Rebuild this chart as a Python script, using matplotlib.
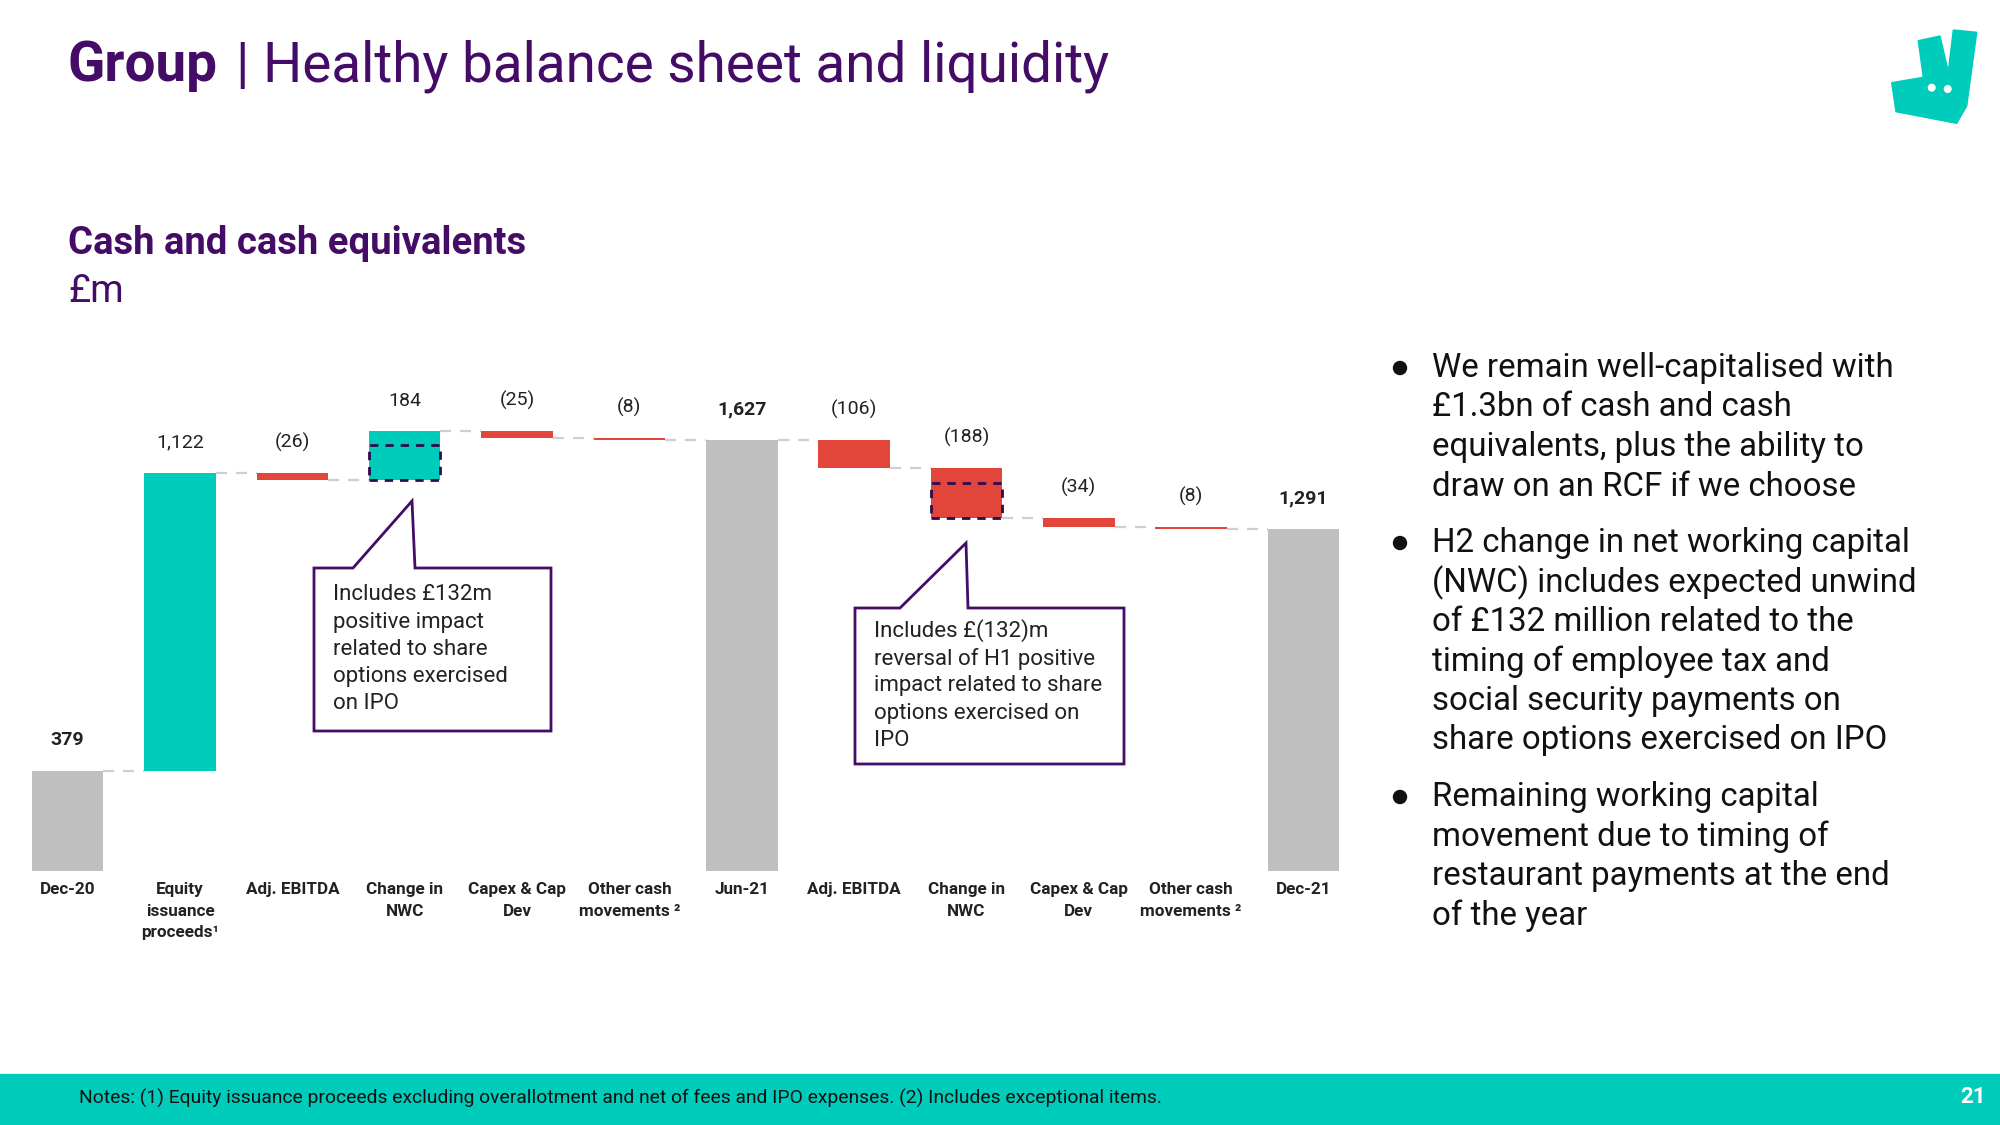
import numpy as np
import matplotlib
matplotlib.use("Agg")
import matplotlib.pyplot as plt
from matplotlib.patches import Rectangle, Polygon, Circle

plt.rcParams['font.family'] = ['Roboto', 'DejaVu Sans']

# data
categories = ['Dec-20', 'Equity\nissuance\nproceeds¹', 'Adj. EBITDA', 'Change in\nNWC',
              'Capex & Cap\nDev', 'Other cash\nmovements ²', 'Jun-21', 'Adj. EBITDA',
              'Change in\nNWC', 'Capex & Cap\nDev', 'Other cash\nmovements ²', 'Dec-21']
values = [379, 1122, -26, 184, -25, -8, 1627, -106, -188, -34, -8, 1291]
is_total = [True, False, False, False, False, False, True, False, False, False, False, True]
value_labels = ['379', '1,122', '(26)', '184', '(25)', '(8)', '1,627', '(106)', '(188)', '(34)', '(8)', '1,291']
share_option_impact = [0, 0, 0, 132, 0, 0, 0, 0, 132, 0, 0, 0]

bullets = [
    ['We remain well-capitalised with', '£1.3bn of cash and cash',
     'equivalents, plus the ability to', 'draw on an RCF if we choose'],
    ['H2 change in net working capital', '(NWC) includes expected unwind',
     'of £132 million related to the', 'timing of employee tax and',
     'social security payments on', 'share options exercised on IPO'],
    ['Remaining working capital', 'movement due to timing of',
     'restaurant payments at the end', 'of the year'],
]
callout1 = ['Includes £132m', 'positive impact', 'related to share',
            'options exercised', 'on IPO']
callout2 = ['Includes £(132)m', 'reversal of H1 positive', 'impact related to share',
            'options exercised on', 'IPO']

PURPLE = '#440C66'
TEAL = '#00CCBC'
RED = '#E2463A'
GREY = '#BFBFBF'

W, H = 2000, 1125
fig = plt.figure(figsize=(20, 11.25), dpi=100)

def fx(px):
    return px / W

def fy(py):
    return 1 - py / H

# waterfall axes
ax = fig.add_axes([fx(11.5), fy(871), (1359.7 - 11.5) / W, 530 / H])
x = np.arange(len(values))
bw = 0.636
bottoms, heights, colors, ends = [], [], [], []
running = 0
for v, tot in zip(values, is_total):
    if tot:
        bottoms.append(0); heights.append(v); colors.append(GREY)
        running = v
    else:
        bottoms.append(running if v > 0 else running + v)
        heights.append(abs(v))
        colors.append(TEAL if v > 0 else RED)
        running += v
    ends.append(running)

ax.bar(x, heights, bottom=bottoms, width=bw, color=colors, zorder=2)

for i in range(len(values) - 1):
    ax.plot([x[i] + bw / 2, x[i + 1] - bw / 2], [ends[i], ends[i]],
            color='#CFCFCF', lw=1.6, ls=(0, (5, 4)), zorder=1)

for i, imp in enumerate(share_option_impact):
    if imp:
        ax.add_patch(Rectangle((x[i] - bw / 2, bottoms[i]), bw, imp, fill=False,
                               ec='#2E0A4F', lw=2, ls=(0, (3, 2.5)), zorder=3))

for i in range(len(values)):
    top = bottoms[i] + heights[i]
    ax.annotate(value_labels[i], (x[i], top), xytext=(0, 22), textcoords='offset points',
                ha='center', va='center', fontsize=14,
                fontweight='bold' if is_total[i] else 'normal', color='#222222')

ax.set_xlim(-0.5, len(values) - 0.5)
ax.set_ylim(0, 2000)
ax.set_xticks(x)
ax.set_xticklabels(categories, fontsize=12.3, fontweight='bold', color='#222222', linespacing=1.55)
ax.tick_params(axis='x', length=0, pad=8)
ax.set_yticks([])
for s in ax.spines.values():
    s.set_visible(False)

# overlay in figure pixels
ov = fig.add_axes([0, 0, 1, 1])
ov.set_xlim(0, W)
ov.set_ylim(H, 0)
ov.axis('off')

def callout(box, tip, lines, tx, ty0, step):
    x0, y0, x1, y1 = box
    (la, apex, rb) = tip
    pts = [(x0, y0), (la, y0), apex, (rb, y0), (x1, y0), (x1, y1), (x0, y1)]
    ov.add_patch(Polygon(pts, closed=True, fc='white', ec=PURPLE, lw=2, zorder=5))
    for k, ln in enumerate(lines):
        ov.text(tx, ty0 + k * step, ln, fontsize=16, color='#222222', va='center', ha='left', zorder=6)

callout((314, 568, 551, 731), (353, (412, 501), 415), callout1, 333, 595, 27.2)
callout((855, 608, 1124, 764), (900, (966, 543), 968), callout2, 874, 631, 27.5)

# title
ov.text(68, 66, 'Group', fontsize=39.5, fontweight='bold', color=PURPLE, va='center', ha='left')
ov.text(236, 66, '| Healthy balance sheet and liquidity', fontsize=39.5, color=PURPLE, va='center', ha='left')
ov.text(68, 243, 'Cash and cash equivalents', fontsize=27.5, fontweight='bold', color=PURPLE, va='center', ha='left')
ov.text(68, 292, '£m', fontsize=27.5, color=PURPLE, va='center', ha='left')

# bullets
y = 368
for para in bullets:
    ov.add_patch(Circle((1400, y), 6.5, color='#111111'))
    for ln in para:
        ov.text(1432, y, ln, fontsize=23.8, color='#111111', va='center', ha='left')
        y += 39.5
    y += 17

# logo
logo = [(1918.3, 40.7), (1940, 36), (1948.3, 71.7), (1953.3, 30), (1976.7, 32.3),
        (1966.7, 106), (1956.7, 123.3), (1896, 111.7), (1891.7, 82.7), (1923.3, 77.3)]
ov.add_patch(Polygon(logo, closed=True, color=TEAL))
ov.add_patch(Circle((1931.7, 87.7), 3.3, color='white'))
ov.add_patch(Circle((1947.7, 89), 3.3, color='white'))

# footer
ov.add_patch(Rectangle((0, 1074), W, 51, color=TEAL))
ov.text(79, 1098, 'Notes: (1) Equity issuance proceeds excluding overallotment and net of fees and IPO expenses. (2) Includes exceptional items.',
        fontsize=13.85, color='#111111', va='center', ha='left')
ov.text(1986, 1097, '21', fontsize=16, fontweight='bold', color='white', va='center', ha='right')

fig.savefig('out.png', dpi=100, facecolor='white')
